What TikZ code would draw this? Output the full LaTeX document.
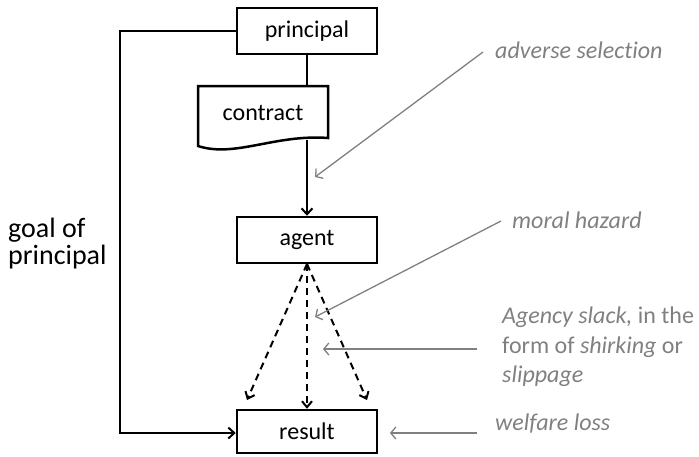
\documentclass[tikz,border=0pt]{standalone}
\usepackage{fontspec}
\setmainfont{Carlito}[Ligatures=NoCommon]
\usetikzlibrary{arrows.meta}
\definecolor{notegray}{RGB}{128,128,128}
\begin{document}
\begin{tikzpicture}[x=1pt,y=-1pt,
  box/.style={draw,line width=2.5pt,minimum width=140pt,minimum height=46pt,
    inner sep=0pt,font=\fontsize{24}{28}\selectfont},
  flow/.style={line width=2pt,-{Straight Barb[length=6pt,width=11pt,line width=2pt]}},
  plain/.style={line width=2pt},
  slack/.style={line width=2pt,dash pattern=on 7pt off 5pt,
    -{Straight Barb[length=6pt,width=10pt,line width=2pt]}},
  note/.style={notegray,line width=1.3pt,
    -{Straight Barb[length=5pt,width=12pt,line width=1.3pt]}},
  notetext/.style={text=notegray,anchor=base west,inner sep=0pt,
    font=\fontsize{24}{28}\selectfont},
  sidetext/.style={anchor=base west,inner sep=0pt,font=\fontsize{28}{32}\selectfont}]
\useasboundingbox (0,0) rectangle (699,456);

% boxes
\node[box] (principal) at (307,31) {principal};
\node[box] (agent) at (307,240) {agent};
\node[box,minimum height=43pt] (result) at (307,431.5) {result};

% contract document shape
\draw[line width=2.5pt,line join=miter]
  (198,146) -- (198,86) -- (328,86) -- (328,138)
  .. controls (275,134) and (235,158) .. (198,146) -- cycle;
\node[font=\fontsize{24}{28}\selectfont,inner sep=0pt] (contract) at (263,113) {contract};
\coordinate (ctop) at (307,86);
\coordinate (cbot) at (307,139.5);

% main chain
\draw[plain] (principal.south) -- (ctop);
\draw[flow] (cbot) -- (agent.north);

% feedback loop of the principal
\coordinate (loopA) at (120,31);
\coordinate (loopB) at (120,433);
\draw[line width=2pt,-{Straight Barb[length=6pt,width=11pt,line width=2pt]}]
  (principal.west |- loopA) -- (loopA) -- (loopB) -- (result.west |- loopB);
\node[sidetext] (goal1) at (8,237) {goal of};
\node[sidetext] (goal2) at (8,264) {principal};

% agency slack branches
\coordinate (aout) at (307,264);
\coordinate (leftend) at (247,400);
\coordinate (rightend) at (367,400);
\draw[slack] (aout) -- (leftend);
\draw[slack] (aout) -- (result.north);
\draw[slack] (aout) -- (rightend);

% annotations
\node[notetext] (adverse) at (495,58) {\itshape adverse selection};
\node[notetext] (moral) at (512,228) {\itshape moral hazard};
\node[notetext] (slack1) at (502,323) {\textit{Agency slack,} in the};
\node[notetext] (slack2) at (502,353) {form of \textit{shirking} or};
\node[notetext] (slack3) at (502,382) {\itshape slippage};
\node[notetext] (welfare) at (495,430) {\itshape welfare loss};

\coordinate (adverseA) at (483,52);
\coordinate (adverseB) at (315,177);
\coordinate (moralA) at (501,221);
\coordinate (moralB) at (315,317);
\coordinate (slackA) at (477,349);
\coordinate (slackB) at (323,349);
\coordinate (welfareA) at (477,433);
\coordinate (welfareB) at (390,433);
\draw[note] (adverseA) -- (adverseB);
\draw[note] (moralA) -- (moralB);
\draw[note] (slackA) -- (slackB);
\draw[note] (welfareA) -- (welfareB);
\end{tikzpicture}
\end{document}
